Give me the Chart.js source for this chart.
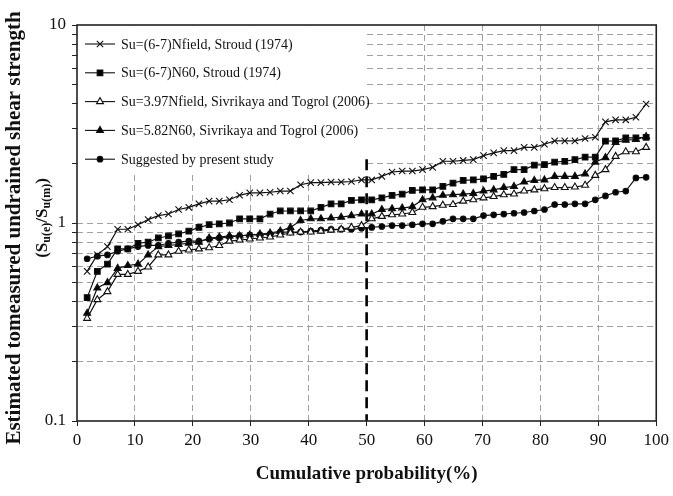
<!DOCTYPE html>
<html>
<head>
<meta charset="utf-8">
<script src="https://cdn.jsdelivr.net/npm/chart.js@4/dist/chart.umd.min.js"></script>
<style>
  html, body { margin: 0; padding: 0; background: #fff; }
</style>
</head>
<body>
<canvas id="chart" width="673" height="496"></canvas>
<script>
/* ================== DATA ================== */
const probability = [
  1.75, 3.51, 5.26, 7.02, 8.77, 10.53, 12.28, 14.04, 15.79, 17.54,
  19.30, 21.05, 22.81, 24.56, 26.32, 28.07, 29.82, 31.58, 33.33, 35.09,
  36.84, 38.60, 40.35, 42.11, 43.86, 45.61, 47.37, 49.12, 50.88, 52.63,
  54.39, 56.14, 57.89, 59.65, 61.40, 63.16, 64.91, 66.67, 68.42, 70.18,
  71.93, 73.68, 75.44, 77.19, 78.95, 80.70, 82.46, 84.21, 85.96, 87.72,
  89.47, 91.23, 92.98, 94.74, 96.49, 98.25
];

const nfieldStroud = [
  0.57, 0.69, 0.76, 0.93, 0.93, 0.98, 1.04, 1.09, 1.11, 1.17,
  1.20, 1.25, 1.29, 1.29, 1.31, 1.38, 1.42, 1.42, 1.43,
  1.45, 1.45, 1.56, 1.60, 1.60, 1.61, 1.61, 1.62, 1.65,
  1.65, 1.72, 1.81, 1.83, 1.83, 1.86, 1.91, 2.05, 2.05, 2.07,
  2.09, 2.19, 2.26, 2.32, 2.32, 2.41, 2.41, 2.50, 2.60,
  2.60, 2.60, 2.67, 2.71, 3.24, 3.32, 3.32, 3.42, 3.99
];
const n60Stroud = [
  0.42, 0.57, 0.62, 0.74, 0.74, 0.79, 0.80, 0.84, 0.86, 0.88,
  0.91, 0.95, 0.98, 0.99, 1.00, 1.05, 1.05, 1.05, 1.11,
  1.15, 1.15, 1.15, 1.15, 1.20, 1.25, 1.25, 1.30, 1.31,
  1.31, 1.34, 1.38, 1.40, 1.46, 1.47, 1.47, 1.53, 1.59, 1.64,
  1.65, 1.67, 1.72, 1.76, 1.86, 1.86, 1.96, 1.97, 2.03,
  2.05, 2.09, 2.15, 2.15, 2.59, 2.60, 2.69, 2.69, 2.71
];
const nfieldSivrikaya = [
  0.33, 0.41, 0.45, 0.55, 0.55, 0.57, 0.60, 0.69, 0.69, 0.72,
  0.73, 0.74, 0.75, 0.77, 0.81, 0.82, 0.83, 0.84, 0.85,
  0.87, 0.89, 0.90, 0.90, 0.91, 0.92, 0.93, 0.95, 0.97,
  1.05, 1.08, 1.10, 1.11, 1.13, 1.20, 1.21, 1.23, 1.24, 1.29,
  1.31, 1.34, 1.36, 1.39, 1.40, 1.45, 1.47, 1.49, 1.51,
  1.51, 1.52, 1.55, 1.74, 1.86, 2.17, 2.29, 2.29, 2.41
];
const n60Sivrikaya = [
  0.35, 0.47, 0.50, 0.59, 0.61, 0.62, 0.69, 0.76, 0.77, 0.78,
  0.79, 0.80, 0.84, 0.85, 0.86, 0.86, 0.87, 0.88, 0.89,
  0.91, 0.95, 1.03, 1.05, 1.05, 1.06, 1.07, 1.09, 1.11,
  1.11, 1.17, 1.18, 1.19, 1.21, 1.31, 1.34, 1.38, 1.39, 1.40,
  1.41, 1.45, 1.47, 1.51, 1.53, 1.61, 1.64, 1.65, 1.72,
  1.72, 1.72, 1.77, 2.03, 2.14, 2.55, 2.62, 2.64, 2.73
];
const presentStudy = [
  0.66, 0.68, 0.69, 0.72, 0.74, 0.76, 0.77, 0.77, 0.79, 0.80,
  0.81, 0.81, 0.83, 0.84, 0.85, 0.86, 0.87, 0.87, 0.88,
  0.90, 0.90, 0.90, 0.91, 0.92, 0.93, 0.93, 0.93, 0.94,
  0.95, 0.96, 0.97, 0.97, 0.98, 0.99, 0.99, 1.02, 1.05, 1.05,
  1.05, 1.09, 1.10, 1.11, 1.12, 1.13, 1.15, 1.17, 1.24,
  1.24, 1.25, 1.25, 1.31, 1.37, 1.43, 1.45, 1.69, 1.70
];

const seriesLabels = [
  "Su=(6-7)Nfield, Stroud (1974)",
  "Su=(6-7)N60, Stroud (1974)",
  "Su=3.97Nfield, Sivrikaya and Togrol (2006)",
  "Su=5.82N60, Sivrikaya and Togrol (2006)",
  "Suggested by present study"
];

const yTicks = [0.1, 0.2, 0.3, 0.4, 0.5, 0.6, 0.7, 0.8, 0.9, 1, 2, 3, 4, 5, 6, 7, 8, 9, 10];
const yLabelled = [0.1, 1, 10];
const xTitle = "Cumulative probability(%)";
const yTitle = "Estimated tomeasured undrained shear strength";
const median = 50;

/* ================== STYLE ================== */
const SERIF = "'Liberation Serif', 'Times New Roman', serif";
const markers = [
  { pointStyle: "crossRot", radius: 4.5, fill: "#000" },
  { pointStyle: "rect", radius: 4, fill: "#000" },
  { pointStyle: "triangle", radius: 4, fill: "#fff" },
  { pointStyle: "triangle", radius: 4, fill: "#000" },
  { pointStyle: "circle", radius: 2.8, fill: "#000" }
];

function toPoints(values) {
    return values.map((v, i) => ({ x: probability[i], y: v }));
}

const datasets = [nfieldStroud, n60Stroud, nfieldSivrikaya, n60Sivrikaya, presentStudy].map((vals, i) => ({
    label: seriesLabels[i],
    data: toPoints(vals),
    borderColor: "#111",
    borderWidth: 1.2,
    pointStyle: markers[i].pointStyle,
    pointRadius: markers[i].radius,
    pointBackgroundColor: markers[i].fill,
    pointBorderColor: "#111",
    pointBorderWidth: 1.1,
    tension: 0
}));

/* ================== PLUGIN: legend, frame, median line, y title ================== */
const paperLayer = {
    id: "paperLayer",
    beforeDatasetsDraw(chart) {
        const { ctx, chartArea: a, scales: { x, y } } = chart;
        ctx.save();
        // legend patch hides the grid behind it
        ctx.fillStyle = "#fff";
        ctx.fillRect(a.left + 1, a.top + 1, 287, 146);
        // bold dashed 50 % line
        const px = x.getPixelForValue(median);
        ctx.strokeStyle = "#000";
        ctx.lineWidth = 2.6;
        ctx.setLineDash([11, 6]);
        ctx.beginPath();
        ctx.moveTo(px, y.getPixelForValue(2.1));
        ctx.lineTo(px, a.bottom);
        ctx.stroke();
        ctx.restore();
    },
    afterDraw(chart) {
        const { ctx, chartArea: a } = chart;
        ctx.save();

        // frame
        ctx.strokeStyle = "#222";
        ctx.lineWidth = 1.6;
        ctx.strokeRect(a.left, a.top, a.right - a.left, a.bottom - a.top);

        // legend
        ctx.font = "14px " + SERIF;
        ctx.textBaseline = "middle";
        chart.data.datasets.forEach((ds, i) => {
            const ly = a.top + 19 + i * 28.8;
            const lx = a.left + 8;
            ctx.strokeStyle = "#111";
            ctx.lineWidth = 1.1;
            ctx.beginPath();
            ctx.moveTo(lx, ly);
            ctx.lineTo(lx + 30, ly);
            ctx.stroke();
            ctx.fillStyle = ds.pointBackgroundColor;
            ctx.strokeStyle = "#111";
            Chart.helpers.drawPoint(ctx, {
                pointStyle: ds.pointStyle,
                radius: ds.pointRadius,
                borderWidth: 1.1,
                rotation: 0
            }, lx + 15, ly);
            ctx.fillStyle = "#111";
            ctx.fillText(ds.label, lx + 36, ly + 1);
        });

        // y title, two rotated lines, second one with subscripts
        ctx.fillStyle = "#111";
        ctx.translate(15, 228);
        ctx.rotate(-Math.PI / 2);
        ctx.textAlign = "center";
        ctx.font = "bold 21px " + SERIF;
        ctx.fillText(yTitle, 0, 0);

        const big = "bold 17px " + SERIF;
        const small = "bold 12px " + SERIF;
        const parts = [
            ["(S", big, 0], ["u(e)", small, 4], ["/S", big, 0], ["u(m)", small, 4], [")", big, 0]
        ];
        let total = 0;
        parts.forEach(p => { ctx.font = p[1]; total += ctx.measureText(p[0]).width; });
        ctx.textAlign = "left";
        let cx = 10 - total / 2;
        parts.forEach(p => {
            ctx.font = p[1];
            ctx.fillText(p[0], cx, 28 + p[2]);
            cx += ctx.measureText(p[0]).width;
        });
        ctx.restore();
    }
};

/* ================== CHART ================== */
new Chart(document.getElementById("chart"), {
    type: "line",
    data: { datasets },
    plugins: [paperLayer],
    options: {
        responsive: false,
        animation: false,
        devicePixelRatio: 1,
        layout: { padding: { top: 25, right: 16, left: 0, bottom: 0 } },
        plugins: { legend: { display: false }, tooltip: { enabled: false } },
        scales: {
            x: {
                type: "linear",
                min: 0,
                max: 100,
                afterFit: s => { s.height = 75; },
                ticks: {
                    stepSize: 10,
                    color: "#111",
                    padding: 4,
                    font: { family: SERIF, size: 17 }
                },
                grid: {
                    color: c => (c.tick && [0, median, 100].includes(c.tick.value)) ? "rgba(0,0,0,0)" : "#a0a0a0",
                    lineWidth: 1,
                    tickLength: 5,
                    tickColor: "#222",
                    tickBorderDash: []
                },
                border: { display: false, dash: [6, 4] },
                title: {
                    display: true,
                    text: xTitle,
                    color: "#111",
                    font: { family: SERIF, size: 19, weight: "bold" },
                    padding: { top: 0, bottom: 11 }
                }
            },
            y: {
                type: "logarithmic",
                min: 0.1,
                max: 10,
                afterFit: s => { s.width = 77; },
                afterBuildTicks: s => { s.ticks = yTicks.map(v => ({ value: v, major: yLabelled.includes(v) })); },
                ticks: {
                    autoSkip: false,
                    color: "#111",
                    padding: 6,
                    font: { family: SERIF, size: 17 },
                    callback: v => yLabelled.includes(v) ? String(v) : ""
                },
                grid: {
                    color: c => (c.tick && (c.tick.value === 0.1 || c.tick.value === 10)) ? "rgba(0,0,0,0)" : "#a0a0a0",
                    lineWidth: 1,
                    tickLength: 5,
                    tickColor: "#222",
                    tickBorderDash: []
                },
                border: { display: false, dash: [6, 4] }
            }
        }
    }
});
</script>
</body>
</html>
